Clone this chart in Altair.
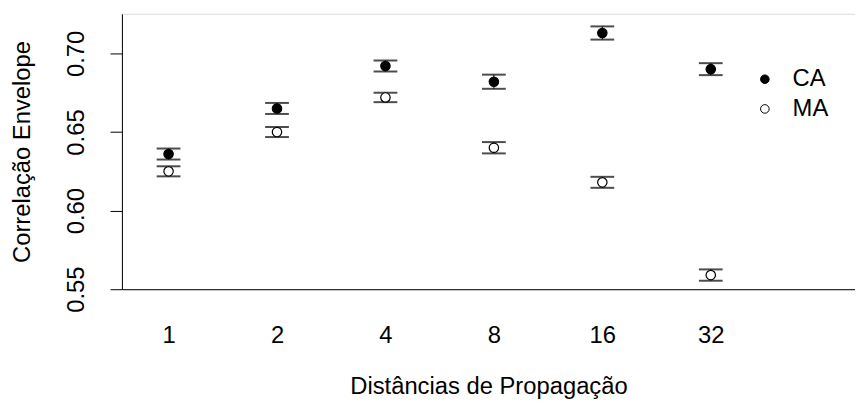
import altair as alt
import pandas as pd

distances = ["1", "2", "4", "8", "16", "32"]
positions = [1, 2, 3, 4, 5, 6]
ca_mean = [0.636, 0.665, 0.692, 0.682, 0.713, 0.690]
ca_err = [0.0035, 0.0035, 0.0035, 0.0045, 0.0042, 0.0038]
ma_mean = [0.625, 0.650, 0.672, 0.640, 0.618, 0.559]
ma_err = [0.0032, 0.0032, 0.0030, 0.0036, 0.0035, 0.0036]
groups = ["CA", "MA"]

rows = []
for g, means, errs in [("CA", ca_mean, ca_err), ("MA", ma_mean, ma_err)]:
    for d, p, m, e in zip(distances, positions, means, errs):
        rows.append({"group": g, "dist": d, "pos": p, "mean": m,
                     "lo": m - e, "hi": m + e})
df = pd.DataFrame(rows)

label_expr = "{" + ",".join(f"'{p}':'{d}'" for p, d in zip(positions, distances)) + "}[datum.value]"

FONT = "Liberation Sans"
FS = 24

xscale = alt.Scale(domain=[0.57, 7.33], nice=False, zero=False)
yscale = alt.Scale(domain=[0.55, 0.7252], nice=False, zero=False)

base = alt.Chart(df)

x_enc = alt.X("pos:Q", scale=xscale,
              axis=alt.Axis(values=positions, labelExpr=label_expr, ticks=False,
                            grid=False, domainColor="black", domainWidth=1,
                            labelFontSize=FS, labelFont=FONT, labelColor="black",
                            labelPadding=35, title="Distâncias de Propagação",
                            titleFontSize=FS, titleFont=FONT, titleFontWeight="normal",
                            titleColor="black", titlePadding=27))
y_enc = alt.Y("mean:Q", scale=yscale,
              axis=alt.Axis(values=[0.55, 0.60, 0.65, 0.70], format=".2f",
                            tickSize=12, tickColor="black", tickWidth=1,
                            grid=False, domainColor="black", domainWidth=1,
                            labelAngle=270, labelAlign="center", labelBaseline="bottom",
                            labelFontSize=FS, labelFont=FONT, labelColor="black",
                            labelPadding=22, title="Correlação Envelope",
                            titleFontSize=FS, titleFont=FONT, titleFontWeight="normal",
                            titleColor="black", titlePadding=30))

rules = base.mark_rule(color="black", strokeWidth=1).encode(
    x=alt.X("pos:Q", scale=xscale), y=alt.Y("lo:Q", scale=yscale), y2="hi:Q")
cap_lo = base.mark_tick(color="black", orient="horizontal", size=24, thickness=2).encode(
    x=alt.X("pos:Q", scale=xscale), y=alt.Y("lo:Q", scale=yscale))
cap_hi = base.mark_tick(color="black", orient="horizontal", size=24, thickness=2).encode(
    x=alt.X("pos:Q", scale=xscale), y=alt.Y("hi:Q", scale=yscale))
points = base.mark_point(filled=False, shape="circle", size=90, stroke="black",
                         strokeWidth=1.2, opacity=1).encode(
    x=x_enc, y=y_enc,
    fill=alt.Fill("group:N", scale=alt.Scale(domain=groups, range=["black", "white"]),
                  legend=alt.Legend(title=None, orient="none", legendX=637, legendY=54,
                                    labelFontSize=FS, labelFont=FONT, labelColor="black",
                                    symbolType="circle", symbolSize=75,
                                    symbolStrokeColor="black", symbolStrokeWidth=1,
                                    rowPadding=6, labelOffset=16, padding=0)),
)

chart = alt.layer(rules, cap_lo, cap_hi, points).properties(
    width=740, height=278,
    autosize=alt.AutoSizeParams(type="none"),
    padding={"left": 115, "top": 4, "right": 0, "bottom": 114},
).configure_view(stroke=None).configure(background="white")

chart.save("out.html", embed_options={"renderer": "svg", "actions": False})
